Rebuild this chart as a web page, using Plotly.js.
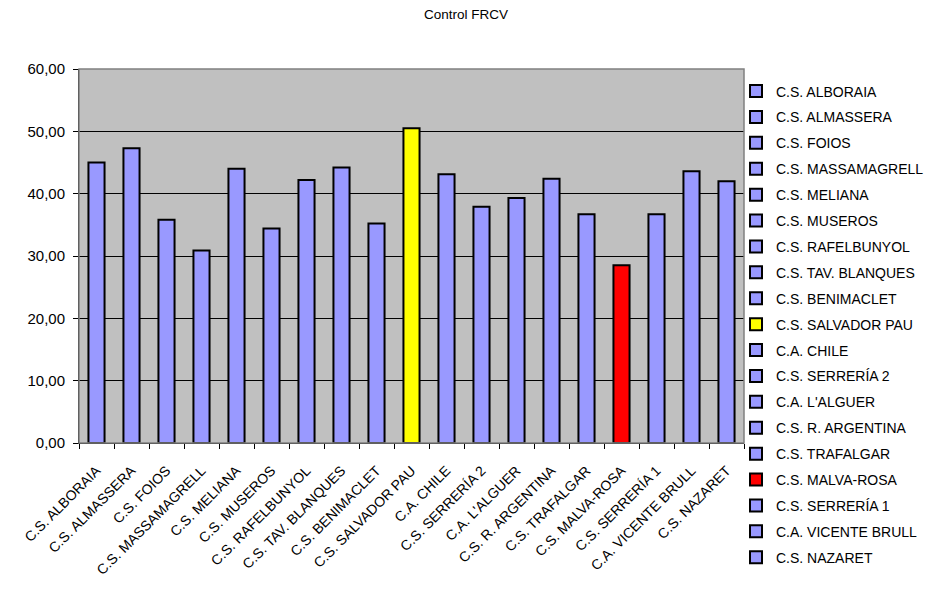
<!DOCTYPE html>
<html>
<head>
<meta charset="utf-8">
<script src="https://cdn.plot.ly/plotly-3.0.1.min.js"></script>
<style>html,body{margin:0;padding:0;background:#fff;}#chart{width:932px;height:591px;}</style>
</head>
<body>
<div id="chart"></div>
<script>
const categories = ["C.S. ALBORAIA","C.S. ALMASSERA","C.S. FOIOS","C.S. MASSAMAGRELL","C.S. MELIANA","C.S. MUSEROS","C.S. RAFELBUNYOL","C.S. TAV. BLANQUES","C.S. BENIMACLET","C.S. SALVADOR PAU","C.A. CHILE","C.S. SERRERÍA 2","C.A. L'ALGUER","C.S. R. ARGENTINA","C.S. TRAFALGAR","C.S. MALVA-ROSA","C.S. SERRERÍA 1","C.A. VICENTE BRULL","C.S. NAZARET"];
const values = [45.0, 47.3, 35.8, 30.9, 44.0, 34.4, 42.2, 44.2, 35.2, 50.5, 43.1, 37.9, 39.3, 42.4, 36.7, 28.5, 36.7, 43.6, 42.0];
const barColors = ["#9999FF","#9999FF","#9999FF","#9999FF","#9999FF","#9999FF","#9999FF","#9999FF","#9999FF","#FFFF00","#9999FF","#9999FF","#9999FF","#9999FF","#9999FF","#FF0000","#9999FF","#9999FF","#9999FF"];
const yTicks = [0, 10, 20, 30, 40, 50, 60];

const traces = categories.map((c, i) => ({
  type: 'bar',
  x: [c],
  y: [values[i]],
  name: c,
  legendgroup: 'g' + i,
  width: 0.46,
  marker: {color: barColors[i], line: {color: '#000000', width: 2}},
  hoverinfo: 'x+y'
}));

const fam = 'Liberation Sans, Arial, sans-serif';
const font14 = {family: fam, size: 14, color: '#000'};
const font15 = {family: fam, size: 15, color: '#000'};

const layout = {
  width: 932, height: 591,
  margin: {l: 79, r: 188, t: 69, b: 148, pad: 0, autoexpand: false},
  paper_bgcolor: '#ffffff',
  plot_bgcolor: '#C0C0C0',
  font: font14,
  separators: ',.',
  barmode: 'overlay',
  showlegend: true,
  title: {text: 'Control FRCV', x: 0.5, xref: 'container', y: 0.976, yanchor: 'middle', font: {family: fam, size: 13.5, color: '#000'}},
  xaxis: {
    type: 'category',
    categoryorder: 'array', categoryarray: categories,
    tickangle: -45,
    tickson: 'boundaries',
    ticks: 'outside', ticklen: 5, tickcolor: '#000', tickwidth: 1,
    ticklabelstandoff: 13,
    showline: true, linecolor: '#000', linewidth: 1,
    showgrid: false,
    tickfont: font14,
    automargin: false,
    fixedrange: true
  },
  yaxis: {
    range: [0, 60],
    tickvals: yTicks,
    tickformat: '.2f',
    ticks: 'outside', ticklen: 5, tickcolor: '#000', tickwidth: 1,
    ticklabelstandoff: 5,
    showline: true, linecolor: '#000', linewidth: 1,
    showgrid: true, gridcolor: '#000', gridwidth: 1,
    zeroline: false,
    tickfont: font15,
    automargin: false,
    fixedrange: true
  },
  legend: {
    xref: 'container', x: 0.7897, xanchor: 'left',
    yref: 'container', y: 0.8723, yanchor: 'top',
    bgcolor: 'rgba(0,0,0,0)',
    borderwidth: 0,
    traceorder: 'grouped',
    tracegroupgap: 4.7,
    itemwidth: 30,
    maxheight: 560,
    font: font14
  },
  shapes: [{
    type: 'rect', xref: 'paper', yref: 'paper', x0: 0, x1: 1, y0: 0, y1: 1,
    line: {color: '#808080', width: 1.5}, layer: 'above'
  }]
};

Plotly.newPlot('chart', traces, layout, {displayModeBar: false, staticPlot: true});
</script>
</body>
</html>
